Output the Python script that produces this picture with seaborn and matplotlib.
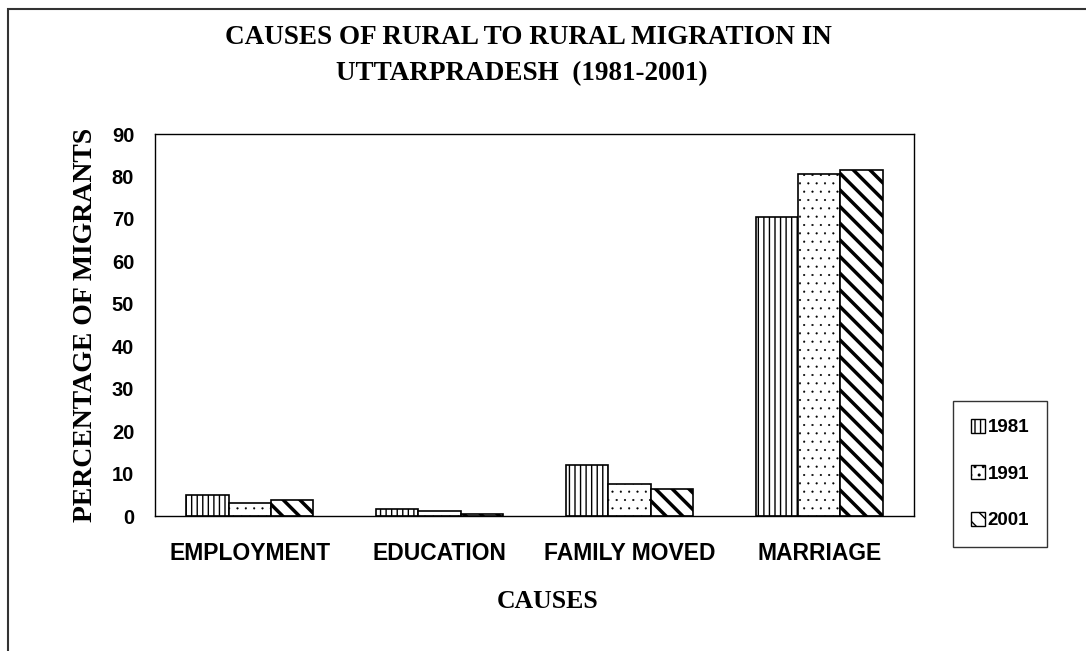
import numpy as np
import pandas as pd
import matplotlib
matplotlib.use("Agg")
import matplotlib.pyplot as plt
import seaborn as sns
from matplotlib.patches import Rectangle, Patch

# data
causes = ["EMPLOYMENT", "EDUCATION", "FAMILY MOVED", "MARRIAGE"]
years = ["1981", "1991", "2001"]
pct_1981 = [4.9, 1.6, 11.9, 70.4]
pct_1991 = [3.0, 1.2, 7.5, 80.5]
pct_2001 = [3.8, 0.4, 6.3, 81.5]

df = pd.DataFrame({
    "cause": causes * 3,
    "year": [y for y in years for _ in causes],
    "pct": pct_1981 + pct_1991 + pct_2001,
})

sns.set_style("white")
plt.rcParams["font.family"] = ["Liberation Sans", "DejaVu Sans"]
plt.rcParams["hatch.linewidth"] = 1.0
for k in ["text.color", "axes.labelcolor", "xtick.color", "ytick.color", "axes.edgecolor"]:
    plt.rcParams[k] = "black"

fig = plt.figure(figsize=(10.86, 6.51), dpi=100)
ax = fig.add_axes([155 / 1086, 1 - 516 / 651, (914 - 155) / 1086, (516 - 134) / 651])

sns.barplot(data=df, x="cause", y="pct", hue="year", order=causes, hue_order=years,
            palette=["white"] * 3, edgecolor="black", linewidth=1.2,
            width=0.67, gap=0, ax=ax, legend=False)

hatches = {"1981": "|||", "1991": "..", "2001": "\\\\"}
hatch_lw = {"1981": 1.0, "1991": 0.3, "2001": 2.5}
for cont, yr in zip(ax.containers, years):
    for bar in cont:
        bar.set_hatch(hatches[yr])
        if hasattr(bar, "set_hatch_linewidth"):
            bar.set_hatch_linewidth(hatch_lw[yr])

ax.set_ylim(0, 90)
ax.set_yticks(np.arange(0, 91, 10))
ax.set_xlim(-0.5, 3.5)
ax.set_xticks(np.arange(-0.5, 4.0, 1.0), minor=False)
ax.set_xticklabels([])
ax.set_xticks(np.arange(4), minor=True)
ax.set_xticklabels(causes, minor=True, fontsize=16.5, fontweight="bold")
ax.tick_params(axis="x", which="major", direction="out", length=6, width=1, color="black")
ax.tick_params(axis="x", which="minor", length=0, pad=19)
ax.tick_params(axis="y", direction="out", length=7, width=1, color="black", pad=8)
for lab in ax.get_yticklabels():
    lab.set_fontsize(14.5)
    lab.set_fontweight("bold")

for s in ax.spines.values():
    s.set_visible(True)
    s.set_color("black")
    s.set_linewidth(1.0)

serif = ["Liberation Serif", "DejaVu Serif"]
ax.set_xlabel("CAUSES", family=serif, fontsize=18.5, fontweight="bold", va="center")
ax.xaxis.set_label_coords((548 - 155) / 759, -(601 - 516) / 382)
ax.set_ylabel("PERCENTAGE OF MIGRANTS", family=serif, fontsize=20, fontweight="bold", labelpad=10)

fig.text(528 / 1086, 1 - 38 / 651, "CAUSES OF RURAL TO RURAL MIGRATION IN", family=serif,
         fontsize=19.5, fontweight="bold", ha="center", va="center")
fig.text(522 / 1086, 1 - 74 / 651, "UTTARPRADESH  (1981-2001)", family=serif,
         fontsize=19.5, fontweight="bold", ha="center", va="center")

handles = [Patch(facecolor="white", edgecolor="black", hatch=hatches[y], label=y) for y in years]
leg = fig.legend(handles=handles, loc="center", bbox_to_anchor=(1000 / 1086, 1 - 474 / 651),
                 frameon=True, fancybox=False, edgecolor="black", handlelength=0.75,
                 handleheight=0.75, handletextpad=0.15, labelspacing=1.55,
                 borderpad=0.95, borderaxespad=0, prop={"weight": "bold", "size": 13.5})
leg.get_frame().set_linewidth(1.0)

fig.patches.append(Rectangle((8 / 1086, -0.1), 1.2, 1 - 9 / 651 + 0.1, transform=fig.transFigure,
                             fill=False, edgecolor="#333333", linewidth=1.5, zorder=-1))

fig.savefig("out.png", dpi=100)
